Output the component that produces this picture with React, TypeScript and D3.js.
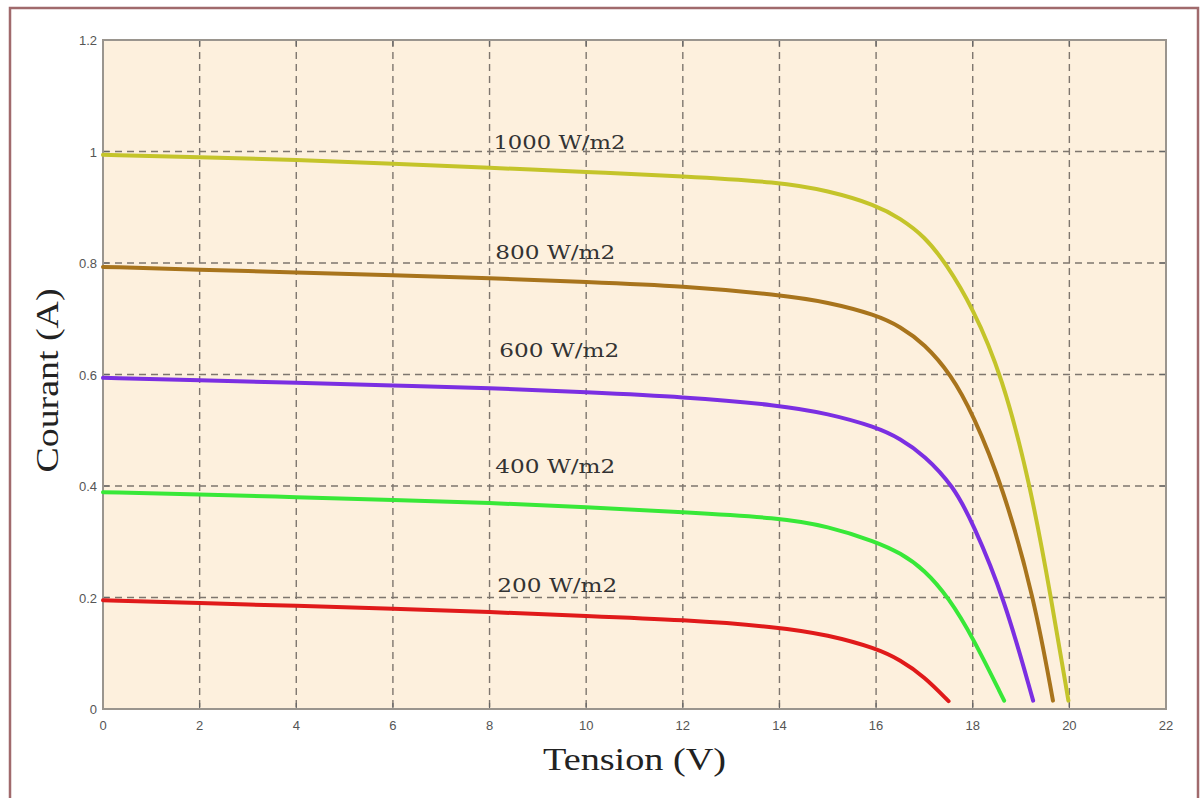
import React, { useEffect, useRef } from 'react'
import * as d3 from 'd3'

// I-V curves of a PV panel for several irradiances
const xTicks = [0, 2, 4, 6, 8, 10, 12, 14, 16, 18, 20, 22]
const yTicks = [0, 0.2, 0.4, 0.6, 0.8, 1, 1.2]

const v1000 = [0, 2, 4, 6, 8, 10, 12, 14, 15, 16, 16.5, 17, 17.44, 18, 18.6, 19.2, 19.62, 19.98]
const i1000 = [0.994, 0.99, 0.985, 0.978, 0.971, 0.963, 0.956, 0.945, 0.93, 0.904, 0.88, 0.848, 0.8, 0.72, 0.6, 0.4, 0.2, 0.015]

const v800 = [0, 2, 4, 6, 8, 10, 12, 14, 15, 16, 16.5, 17, 17.55, 18, 18.62, 19.27, 19.66]
const i800 = [0.793, 0.788, 0.783, 0.778, 0.773, 0.766, 0.759, 0.743, 0.73, 0.707, 0.686, 0.655, 0.6, 0.53, 0.4, 0.2, 0.015]

const v600 = [0, 2, 4, 6, 8, 10, 12, 14, 15, 16, 16.5, 17, 17.6, 18, 18.65, 19.25]
const i600 = [0.594, 0.59, 0.585, 0.58, 0.576, 0.568, 0.56, 0.545, 0.53, 0.506, 0.485, 0.455, 0.4, 0.334, 0.2, 0.015]

const v400 = [0, 2, 4, 6, 8, 10, 12, 14, 15, 16, 16.5, 17, 17.5, 18, 18.65]
const i400 = [0.389, 0.385, 0.38, 0.375, 0.37, 0.362, 0.353, 0.343, 0.328, 0.3, 0.28, 0.25, 0.2, 0.129, 0.015]

const v200 = [0, 2, 4, 6, 8, 10, 12, 14, 15, 16, 16.5, 17, 17.5]
const i200 = [0.195, 0.19, 0.185, 0.18, 0.174, 0.167, 0.16, 0.147, 0.133, 0.109, 0.088, 0.058, 0.014]

const labels = ['1000 W/m2', '800 W/m2', '600 W/m2', '400 W/m2', '200 W/m2']
const labelX = [8.08, 8.12, 8.2, 8.12, 8.16]
const labelY = [1.004, 0.807, 0.632, 0.423, 0.21]

const series = [
  { v: v1000, i: i1000, color: '#c4c42a' },
  { v: v800, i: i800, color: '#a8741c' },
  { v: v600, i: i600, color: '#7b2fe2' },
  { v: v400, i: i400, color: '#38e838' },
  { v: v200, i: i200, color: '#e01a1a' },
]

const App = () => {
  const ref = useRef<SVGSVGElement>(null)

  useEffect(() => {
    const svg = d3.select(ref.current)
    svg.selectAll('*').remove()

    const left = 103, right = 1166, top = 40, bottom = 709
    const x = d3.scaleLinear().domain([0, 22]).range([left, right])
    const y = d3.scaleLinear().domain([0, 1.2]).range([bottom, top])

    // outer frame
    svg.append('rect')
      .attr('x', 10).attr('y', 8)
      .attr('width', 1188).attr('height', 800)
      .attr('fill', '#fff')
      .attr('stroke', '#a06a6c')
      .attr('stroke-width', 2.5)

    svg.append('rect')
      .attr('x', left).attr('y', top)
      .attr('width', right - left).attr('height', bottom - top)
      .attr('fill', '#fdf0dd')

    // grid
    const grid = svg.append('g')
      .attr('stroke', '#7e766e')
      .attr('stroke-width', 1.4)
      .attr('stroke-dasharray', '7,5')
    grid.selectAll('.gx')
      .data(xTicks.slice(1, -1))
      .enter().append('line')
      .attr('x1', d => x(d)).attr('x2', d => x(d))
      .attr('y1', top).attr('y2', bottom)
    grid.selectAll('.gy')
      .data(yTicks.slice(1, -1))
      .enter().append('line')
      .attr('x1', left).attr('x2', right)
      .attr('y1', d => y(d)).attr('y2', d => y(d))

    // small inner ticks
    const ticks = svg.append('g').attr('stroke', '#666').attr('stroke-width', 1.2)
    xTicks.forEach(t => {
      ticks.append('line').attr('x1', x(t)).attr('x2', x(t)).attr('y1', bottom).attr('y2', bottom - 6)
      ticks.append('line').attr('x1', x(t)).attr('x2', x(t)).attr('y1', top).attr('y2', top + 6)
    })
    yTicks.forEach(t => {
      ticks.append('line').attr('x1', left).attr('x2', left + 6).attr('y1', y(t)).attr('y2', y(t))
      ticks.append('line').attr('x1', right).attr('x2', right - 6).attr('y1', y(t)).attr('y2', y(t))
    })

    // plot border
    svg.append('rect')
      .attr('x', left).attr('y', top)
      .attr('width', right - left).attr('height', bottom - top)
      .attr('fill', 'none')
      .attr('stroke', '#9a958e')
      .attr('stroke-width', 2)

    // curves
    const line = d3.line<[number, number]>()
      .x(d => x(d[0]))
      .y(d => y(d[1]))
      .curve(d3.curveBasis)

    series.forEach(s => {
      const pts = s.v.map((v, k) => [v, s.i[k]] as [number, number])
      svg.append('path')
        .datum(pts)
        .attr('fill', 'none')
        .attr('stroke', s.color)
        .attr('stroke-width', 4)
        .attr('stroke-linecap', 'round')
        .attr('d', line)
    })

    // irradiance labels
    labels.forEach((t, k) => {
      svg.append('text')
        .attr('x', x(labelX[k]))
        .attr('y', y(labelY[k]))
        .attr('font-family', '"DejaVu Serif", serif')
        .attr('font-size', 19)
        .attr('fill', '#333')
        .attr('textLength', k === 0 ? 132 : 120)
        .attr('lengthAdjust', 'spacingAndGlyphs')
        .text(t)
    })

    // tick labels
    svg.selectAll('.xl')
      .data(xTicks)
      .enter().append('text')
      .attr('x', d => x(d))
      .attr('y', 730)
      .attr('text-anchor', 'middle')
      .attr('font-family', '"Liberation Sans", Arial, sans-serif')
      .attr('font-size', 13)
      .attr('fill', '#555')
      .text(d => String(d))

    svg.selectAll('.yl')
      .data(yTicks)
      .enter().append('text')
      .attr('x', 97)
      .attr('y', d => y(d) + 5)
      .attr('text-anchor', 'end')
      .attr('font-family', '"Liberation Sans", Arial, sans-serif')
      .attr('font-size', 13)
      .attr('fill', '#555')
      .text(d => String(d))

    // axis titles
    svg.append('text')
      .attr('x', (left + right) / 2)
      .attr('y', 770)
      .attr('text-anchor', 'middle')
      .attr('font-family', '"Liberation Serif", serif')
      .attr('font-size', 32)
      .attr('fill', '#222')
      .attr('textLength', 183)
      .attr('lengthAdjust', 'spacingAndGlyphs')
      .text('Tension (V)')

    svg.append('text')
      .attr('transform', `translate(58, ${(top + bottom) / 2 + 6}) rotate(-90)`)
      .attr('text-anchor', 'middle')
      .attr('font-family', '"Liberation Serif", serif')
      .attr('font-size', 32)
      .attr('fill', '#222')
      .attr('textLength', 184)
      .attr('lengthAdjust', 'spacingAndGlyphs')
      .text('Courant (A)')
  }, [])

  return (
    <svg ref={ref} width={1203} height={798}
      style={{ position: 'absolute', left: 0, top: 0, background: '#fff' }} />
  )
}

export default App
